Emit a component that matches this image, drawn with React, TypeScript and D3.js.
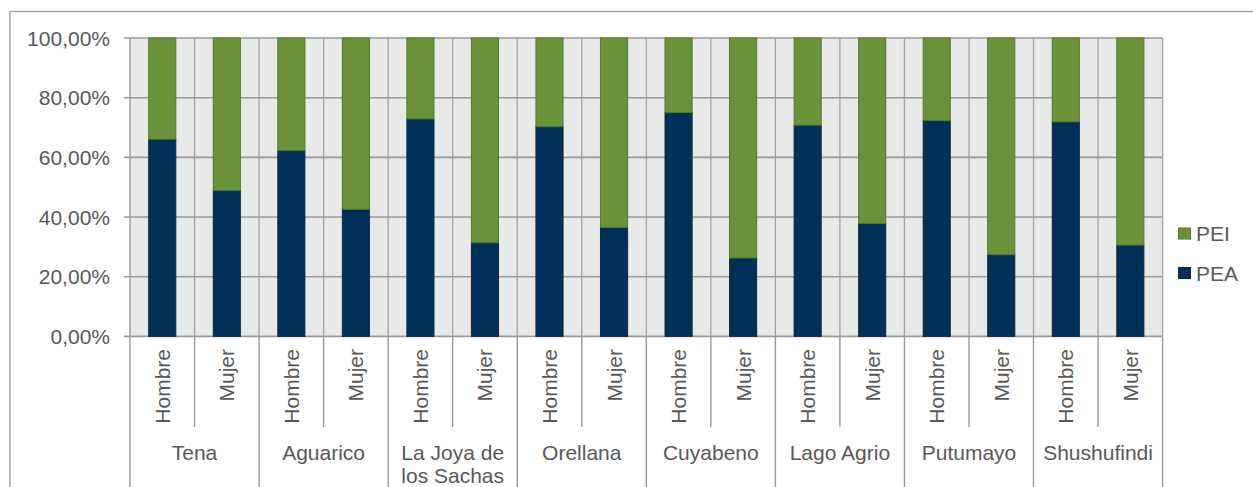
import React from "react";
import * as d3 from "d3";

const groups = ["Tena", "Aguarico", "La Joya de los Sachas", "Orellana", "Cuyabeno", "Lago Agrio", "Putumayo", "Shushufindi"];
const groupLines = [["Tena"], ["Aguarico"], ["La Joya de", "los Sachas"], ["Orellana"], ["Cuyabeno"], ["Lago Agrio"], ["Putumayo"], ["Shushufindi"]];
const sexes = ["Hombre", "Mujer"];
const peaHombre = [66.1, 62.3, 72.9, 70.3, 75.0, 70.8, 72.3, 71.9];
const peaMujer = [48.9, 42.6, 31.4, 36.5, 26.3, 37.9, 27.4, 30.6];
const yTicks = [0, 20, 40, 60, 80, 100];
const seriesNames = ["PEI", "PEA"];

const W = 1253;
const H = 487;
const FONT = "'Liberation Sans', Arial, sans-serif";
const TXT = "#595959";
const NAVY = "#003057";
const GREEN = "#6a9339";

export default function App() {
  const rows = groups.flatMap((g, gi) =>
    sexes.map((s, si) => {
      const pea = si === 0 ? peaHombre[gi] : peaMujer[gi];
      return { key: `${g}|${s}`, group: g, gi, sex: s, pea, pei: 100 - pea };
    })
  );
  const x = d3.scaleBand<string>().domain(rows.map((r) => r.key)).range([130, 1162.6]).padding(0);
  const y = d3.scaleLinear().domain([0, 100]).range([336.4, 38]);
  const stack = d3.stack<any>().keys(["pea", "pei"]);
  const stacked = stack(rows as any);
  const colors: Record<string, string> = { pea: NAVY, pei: GREEN };
  const strokes: Record<string, string> = { pea: "#14283c", pei: "#507a2a" };
  const bw = x.bandwidth();
  const barW = bw * 0.42;
  const fmt = (v: number) => d3.format(".2f")(v).replace(".", ",") + "%";
  const y0 = y(0);

  return (
    <svg width={W} height={H} style={{ position: "absolute", left: 0, top: 0, background: "#fff" }} fontFamily={FONT}>
      <rect x={10} y={11.5} width={1400} height={700} fill="#fff" stroke="#a6a6a6" strokeWidth={1.5} />
      <rect x={130} y={y(100)} width={1162.6 - 130} height={y0 - y(100)} fill="#e8e9e9" />
      {/* vertical gridlines */}
      {rows.map((r, i) => (
        <line key={"vg" + i} x1={(x(r.key) as number) + bw} x2={(x(r.key) as number) + bw} y1={y(100)} y2={y0} stroke="#a3a3a3" strokeWidth={1.3} />
      ))}
      {/* horizontal gridlines */}
      {yTicks.map((t) => (
        <g key={"hg" + t}>
          <line x1={124} x2={1162.6} y1={y(t)} y2={y(t)} stroke="#999" strokeWidth={1.6} />
          <text x={110} y={y(t)} textAnchor="end" dominantBaseline="central" fontSize={21} fill={TXT}>
            {fmt(t)}
          </text>
        </g>
      ))}
      <line x1={130} x2={130} y1={y(100)} y2={y0} stroke="#999" strokeWidth={1.4} />
      {/* bars */}
      {stacked.map((s) =>
        s.map((d, i) => (
          <rect
            key={s.key + i}
            x={(x(rows[i].key) as number) + (bw - barW) / 2}
            y={y(d[1])}
            width={barW}
            height={y(d[0]) - y(d[1])}
            fill={colors[s.key]}
            stroke={strokes[s.key]}
            strokeWidth={1}
          />
        ))
      )}
      {/* category axis separators */}
      {rows.map((r, i) => {
        const xr = (x(r.key) as number) + bw;
        const isGroupEnd = i % 2 === 1;
        return <line key={"sep" + i} x1={xr} x2={xr} y1={y0} y2={isGroupEnd ? H : 427} stroke="#999" strokeWidth={1.4} />;
      })}
      <line x1={130} x2={130} y1={y0} y2={H} stroke="#999" strokeWidth={1.4} />
      {/* sex labels */}
      {rows.map((r) => {
        const cx = (x(r.key) as number) + bw / 2;
        return (
          <text key={"sl" + r.key} transform={`translate(${cx},349) rotate(-90)`} textAnchor="end" dominantBaseline="central" fontSize={21} fill={TXT}>
            {r.sex}
          </text>
        );
      })}
      {/* group labels */}
      {groups.map((g, gi) => {
        const cx = (x(`${g}|Hombre`) as number) + bw;
        return (
          <text key={"gl" + g} x={cx} y={460} textAnchor="middle" fontSize={21} fill={TXT}>
            {groupLines[gi].map((ln, li) => (
              <tspan key={li} x={cx} dy={li === 0 ? 0 : 23}>
                {ln}
              </tspan>
            ))}
          </text>
        );
      })}
      {/* legend */}
      {seriesNames.map((n, i) => (
        <g key={"lg" + n} transform={`translate(1178,${233.5 + i * 39.5})`}>
          <rect x={0.5} y={-5.5} width={12} height={11} fill={n === "PEI" ? GREEN : NAVY} stroke={n === "PEI" ? "#507a2a" : "#14283c"} strokeWidth={1} />
          <text x={18} y={0} dominantBaseline="central" fontSize={21} fill={TXT}>
            {n}
          </text>
        </g>
      ))}
    </svg>
  );
}
